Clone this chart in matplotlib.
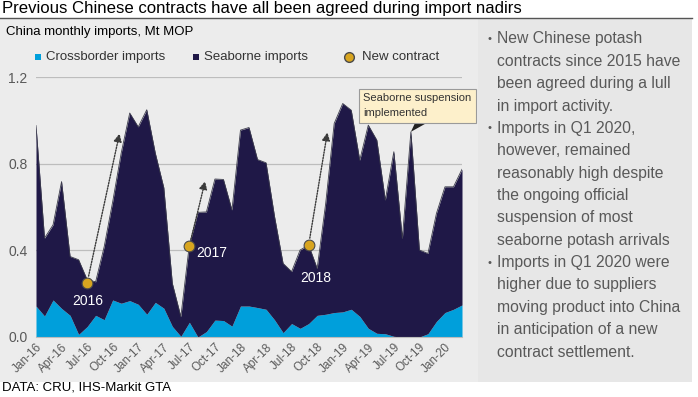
"""
China monthly potash imports: crossborder vs seaborne, with contract dates.
"""
import numpy as np
import pandas as pd
import matplotlib
matplotlib.use('Agg')
import matplotlib.pyplot as plt
from matplotlib.patches import Rectangle, Polygon
from matplotlib.lines import Line2D

plt.rcParams.update({
    "font.family": ["Liberation Sans", "DejaVu Sans"],
    "font.size": 9.5,
})

# monthly data, Jan-16 .. Mar-20 (Mt MOP)
months = pd.date_range('2016-01-01', periods=51, freq='MS')
total_imports = [0.977, 0.457, 0.518, 0.718, 0.372, 0.357, 0.265, 0.255, 0.417, 0.625,
                 0.85, 1.035, 0.971, 1.05, 0.85, 0.69, 0.248, 0.094, 0.426, 0.576,
                 0.578, 0.73, 0.728, 0.587, 0.956, 0.968, 0.82, 0.805, 0.556, 0.34,
                 0.302, 0.402, 0.425, 0.317, 0.617, 0.987, 1.079, 1.048, 0.817, 0.979,
                 0.91, 0.633, 0.856, 0.456, 0.948, 0.402, 0.386, 0.571, 0.694, 0.694,
                 0.775]
crossborder = [0.143, 0.097, 0.171, 0.132, 0.10, 0.012, 0.048, 0.10, 0.08, 0.171,
               0.156, 0.168, 0.151, 0.105, 0.16, 0.133, 0.049, 0.003, 0.068, 0.0,
               0.025, 0.078, 0.076, 0.05, 0.143, 0.143, 0.136, 0.128, 0.079, 0.02,
               0.062, 0.04, 0.062, 0.10, 0.105, 0.113, 0.116, 0.128, 0.095, 0.04,
               0.017, 0.015, 0.003, 0.0, 0.0, 0.0, 0.015, 0.072, 0.113, 0.128,
               0.148]

# new contract points
contract_months = ['2016-07-01', '2017-07-01', '2018-09-01']
contract_labels = ['2016', '2017', '2018']
contract_values = [0.25, 0.42, 0.425]
arrow_targets = [(9.8, 0.94), (19.85, 0.72), (34.2, 0.945)]
label_offsets = [(0.1, 0.166), (2.6, 0.39), (0.8, 0.272)]

suspension_month = '2019-09-01'

legend_labels = ['Crossborder imports', 'Seaborne imports', 'New contract']

bullets = [
    ["New Chinese potash", "contracts since 2015 have", "been agreed during a lull",
     "in import activity."],
    ["Imports in Q1 2020,", "however, remained", "reasonably high despite",
     "the ongoing official", "suspension of most", "seaborne potash arrivals"],
    ["Imports in Q1 2020 were", "higher due to suppliers", "moving product into China",
     "in anticipation of a new", "contract settlement."],
]

C_CROSS = '#009fdb'
C_SEA = '#1f1847'
C_GOLD = '#d8a520'
C_TXT = '#595959'

W, H = 698, 397


def fx(px):
    return px / W


def fy(py):
    return 1 - py / H


def main():
    fig = plt.figure(figsize=(W / 100, H / 100), dpi=100)
    fig.patch.set_facecolor('white')

    # panels
    fig.patches.append(Rectangle((0, fy(382)), fx(478), (382 - 18) / H,
                                 transform=fig.transFigure, fc='#ececec', ec='none', zorder=-10))
    fig.patches.append(Rectangle((fx(478), fy(382)), fx(692 - 478), (382 - 18) / H,
                                 transform=fig.transFigure, fc='#e7e7e7', ec='none', zorder=-10))
    fig.add_artist(Line2D([0, fx(692)], [fy(18), fy(18)], color='#555555', lw=1,
                          transform=fig.transFigure))

    fig.text(fx(2), fy(8.5), 'Previous Chinese contracts have all been agreed during import nadirs',
             fontsize=12.1, va='center', ha='left', color='black')
    fig.text(fx(6), fy(32), 'China monthly imports, Mt MOP', fontsize=9.5,
             va='center', ha='left', color='black')
    fig.text(fx(2), fy(388), 'DATA: CRU, IHS-Markit GTA', fontsize=9.5,
             va='center', ha='left', color='black')

    ax = fig.add_axes([fx(36), 60 / H, fx(462 - 36), (337 - 77.3) / H])
    ax.set_facecolor('none')
    x = np.arange(len(months))
    ax.fill_between(x, 0, crossborder, color=C_CROSS, lw=0, zorder=2)
    ax.fill_between(x, crossborder, total_imports, color=C_SEA, lw=0, zorder=2)
    ax.plot(x, total_imports, color='#3c3c4c', lw=0.6, zorder=2)

    ax.set_xlim(0, len(months) - 1)
    ax.set_ylim(0, 1.2)
    ax.set_yticks([0.0, 0.4, 0.8, 1.2])
    ax.set_yticklabels(['0.0', '0.4', '0.8', '1.2'])
    ax.yaxis.grid(True, color='#bdbdbd', lw=0.9, zorder=1)
    ax.set_axisbelow(True)
    for s in ['top', 'right', 'left']:
        ax.spines[s].set_visible(False)
    ax.spines['bottom'].set_color('#bdbdbd')
    ax.tick_params(axis='y', length=0, labelsize=10, labelcolor=C_TXT, pad=6)
    xt = x[::3]
    ax.set_xticks(xt)
    ax.set_xticklabels([months[i].strftime('%b-%y') for i in xt], rotation=45,
                       ha='right', rotation_mode='anchor')
    ax.tick_params(axis='x', length=0, labelsize=8.5, labelcolor=C_TXT, pad=3)

    # contracts
    cx = [months.get_loc(pd.Timestamp(m)) for m in contract_months]
    for xi, yv, tgt, lab, off in zip(cx, contract_values, arrow_targets,
                                     contract_labels, label_offsets):
        ax.annotate('', xy=tgt, xytext=(xi, yv),
                    arrowprops=dict(arrowstyle='-|>', linestyle=(0, (1, 1)), color='#3a3a3a',
                                    lw=1, shrinkA=5, shrinkB=0, mutation_scale=12),
                    zorder=4)
        ax.text(xi + off[0], off[1], lab, color='white', fontsize=10,
                ha='center', va='center', zorder=5)
    ax.scatter(cx, contract_values, s=60, color=C_GOLD, edgecolor='#4a4a4a',
               lw=0.8, zorder=6, clip_on=False)

    # suspension callout: pointer from box bottom down to the Sep-19 peak
    si = months.get_loc(pd.Timestamp(suspension_month))
    ax.add_patch(Polygon([(si, total_imports[si]), (si + 0.5, 0.99), (si + 1.9, 0.99)],
                         closed=True, fc='#222222', ec='none', zorder=6, clip_on=False))
    ax.text(38.4, 1.069, 'Seaborne suspension\nimplemented', fontsize=8.0,
            color='#333333', ha='left', va='center', linespacing=1.65, zorder=7,
            bbox=dict(boxstyle='square,pad=0.4', fc='#fdf0cb', ec='#9a9a9a', lw=0.8))

    # legend (placed by hand to match the original spacing)
    ly = fy(57)
    sq = 6
    fig.patches.append(Rectangle((fx(35), fy(57 + sq / 2)), fx(sq), sq / H,
                                 transform=fig.transFigure, fc=C_CROSS, ec='none'))
    fig.patches.append(Rectangle((fx(193), fy(57 + sq / 2)), fx(sq), sq / H,
                                 transform=fig.transFigure, fc=C_SEA, ec='none'))
    fig.add_artist(Line2D([fx(349)], [ly], marker='o', ls='none', color=C_GOLD,
                          markeredgecolor='#4a4a4a', markersize=7,
                          transform=fig.transFigure))
    for xp, lab in zip([46, 204, 362], legend_labels):
        fig.text(fx(xp), ly, lab, fontsize=9.5, va='center', ha='left', color='#333333')

    # side commentary
    y0, dy = 39, 22.36
    k = 0
    for para in bullets:
        for j, line in enumerate(para):
            yy = fy(y0 + dy * k)
            if j == 0:
                fig.text(fx(490), yy, '\u2022', fontsize=8, color=C_TXT,
                         ha='center', va='center')
            fig.text(fx(497), yy, line, fontsize=11.3, color=C_TXT,
                     ha='left', va='center')
            k += 1

    fig.savefig('out.png', dpi=100)
    plt.close(fig)


if __name__ == '__main__':
    main()
